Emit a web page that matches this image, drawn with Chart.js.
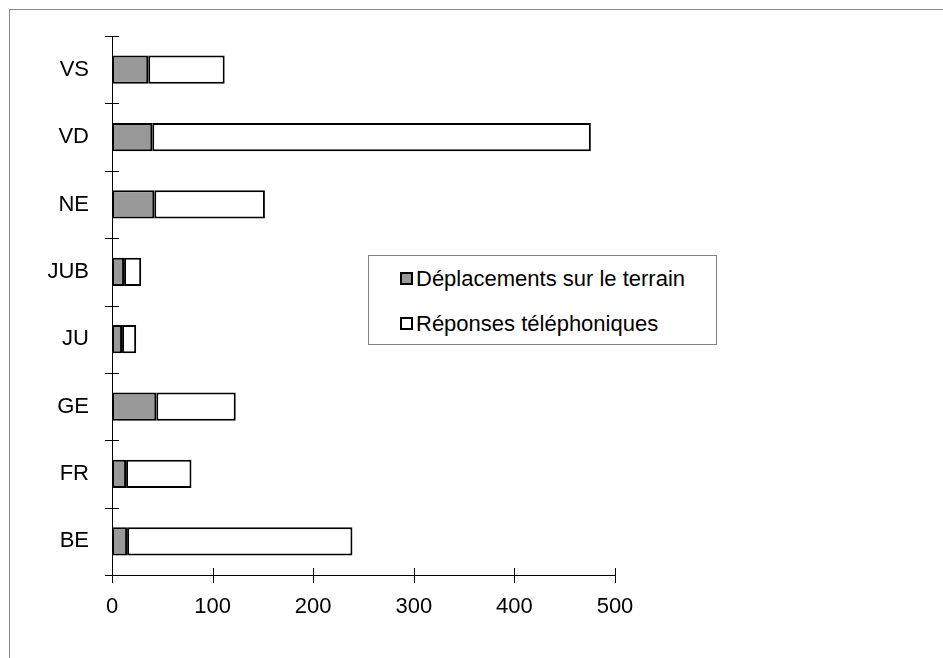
<!DOCTYPE html>
<html lang="fr">
<head>
    <meta charset="UTF-8">
    <title>Déplacements et réponses par canton</title>
    <script src="https://cdn.jsdelivr.net/npm/chart.js"></script>
    <style>
        html, body {
            margin: 0;
            padding: 0;
            background: #fff;
            overflow: hidden;
        }
        body {
            font-family: 'Liberation Sans', Arial, sans-serif;
        }
        .wrap {
            position: relative;
            width: 943px;
            height: 658px;
            overflow: hidden;
        }
        .frame {
            position: absolute;
            left: 9px;
            top: 9px;
            width: 1000px;
            height: 1000px;
            border: 1px solid #8c8c8c;
        }
        canvas {
            position: absolute;
            left: 0;
            top: 0;
        }
        #legend {
            position: absolute;
            left: 368px;
            top: 255px;
            width: 347px;
            height: 88px;
            border: 1px solid #808080;
            background: #fff;
            font-size: 22px;
            color: #000;
        }
        #legend .item {
            position: absolute;
            left: 31px;
            white-space: nowrap;
            line-height: 24px;
        }
        #legend .box {
            display: inline-block;
            width: 9px;
            height: 9px;
            border: 2px solid #000;
            margin-right: 3px;
            vertical-align: 1px;
        }
    </style>
</head>
<body>
    <div class="wrap">
        <div class="frame"></div>
        <canvas id="chart" width="943" height="658"></canvas>
        <div id="legend"></div>
    </div>
    <script>
        // cantons, top to bottom as shown
        const cantons = ['VS', 'VD', 'NE', 'JUB', 'JU', 'GE', 'FR', 'BE'];
        const deplacements = [36, 40, 42, 12, 10, 44, 14, 15];
        const reponses = [76, 436, 110, 17, 14, 79, 65, 224];
        const xTicks = [0, 100, 200, 300, 400, 500];
        const seriesNames = ['Déplacements sur le terrain', 'Réponses téléphoniques'];
        const seriesColors = ['#999999', '#ffffff'];

        const font = { family: "'Liberation Sans', Arial, sans-serif", size: 22 };

        // small tick marks that cross the axes, like the original
        const crossTicks = {
            id: 'crossTicks',
            afterDraw(chart) {
                const ctx = chart.ctx;
                const x = chart.scales.x;
                const y = chart.scales.y;
                ctx.save();
                ctx.strokeStyle = '#000';
                ctx.lineWidth = 1;
                ctx.beginPath();
                for (let i = 0; i <= cantons.length; i++) {
                    const py = Math.round(y.getPixelForValue(i - 0.5)) + 0.5;
                    ctx.moveTo(y.right - 7, py);
                    ctx.lineTo(y.right + 7, py);
                }
                xTicks.forEach(v => {
                    const px = Math.round(x.getPixelForValue(v)) + 0.5;
                    ctx.moveTo(px, x.top - 7);
                    ctx.lineTo(px, x.top + 8);
                });
                ctx.stroke();
                ctx.restore();
            }
        };

        const ctx = document.getElementById('chart').getContext('2d');
        const chart = new Chart(ctx, {
            type: 'bar',
            data: {
                labels: cantons,
                datasets: [
                    {
                        label: seriesNames[0],
                        data: deplacements,
                        backgroundColor: seriesColors[0],
                        borderColor: '#000',
                        borderWidth: 2,
                        borderSkipped: false
                    },
                    {
                        label: seriesNames[1],
                        data: reponses,
                        backgroundColor: seriesColors[1],
                        borderColor: '#000',
                        borderWidth: 2,
                        borderSkipped: false
                    }
                ]
            },
            options: {
                indexAxis: 'y',
                responsive: false,
                animation: false,
                devicePixelRatio: 1,
                layout: { padding: { left: 0, top: 36, right: 328, bottom: 0 } },
                plugins: {
                    legend: { display: false },
                    tooltip: { enabled: false }
                },
                datasets: {
                    bar: { categoryPercentage: 1, barPercentage: 0.42 }
                },
                scales: {
                    x: {
                        stacked: true,
                        min: 0,
                        max: 500,
                        afterBuildTicks(scale) {
                            scale.ticks = xTicks.map(v => ({ value: v }));
                        },
                        afterFit(scale) { scale.height = 83; },
                        grid: { display: false },
                        border: { display: true, color: '#000', width: 1 },
                        ticks: { color: '#000', font: font, padding: 11, maxRotation: 0 }
                    },
                    y: {
                        stacked: true,
                        afterFit(scale) { scale.width = 112; },
                        grid: { display: false, offset: true },
                        border: { display: true, color: '#000', width: 1 },
                        ticks: { color: '#000', font: font, padding: 15 }
                    }
                }
            },
            plugins: [crossTicks]
        });

        // legend box, built from the datasets
        const legend = document.getElementById('legend');
        chart.data.datasets.forEach((ds, i) => {
            const item = document.createElement('div');
            item.className = 'item';
            item.style.top = (i === 0 ? 11 : 56) + 'px';
            const box = document.createElement('span');
            box.className = 'box';
            box.style.background = ds.backgroundColor;
            item.appendChild(box);
            item.appendChild(document.createTextNode(ds.label));
            legend.appendChild(item);
        });
    </script>
</body>
</html>
